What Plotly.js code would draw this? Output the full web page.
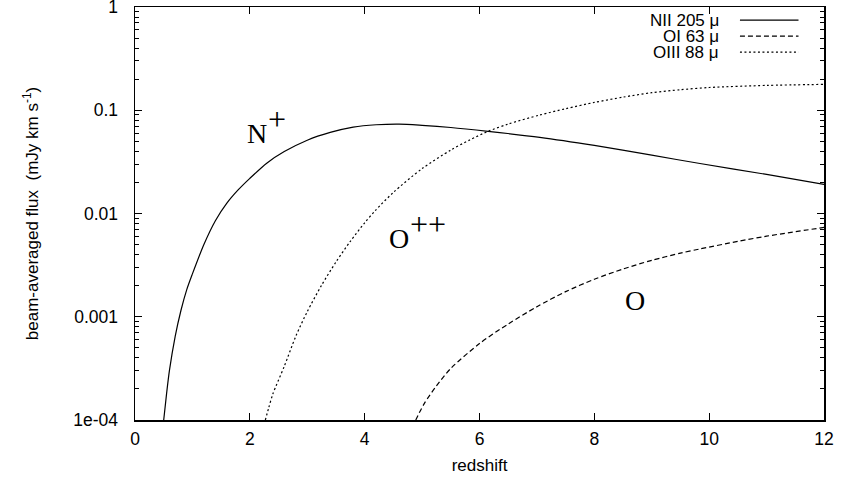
<!DOCTYPE html>
<html>
<head>
<meta charset="utf-8">
<script src="https://cdn.plot.ly/plotly-3.0.1.min.js"></script>
<style>
  html, body { margin: 0; padding: 0; background: #fff; }
  #chart { width: 842px; height: 477px; }
</style>
</head>
<body>
<div id="chart"></div>
<script>
// [NII] 205 micron line: beam-averaged flux (mJy km/s) vs redshift
const nII_z    = [0.5, 0.55, 0.6, 0.7, 0.8, 0.9, 1.0, 1.2, 1.4, 1.6, 1.8, 2.0, 2.3, 2.6, 3.0, 3.4, 3.8, 4.2, 4.6, 5.0, 5.5, 6.15, 7.05, 8.0, 9.0, 9.84, 11.0, 12.0];
const nII_flux = [1.0e-4, 1.80e-4, 3.02e-4, 6.46e-4, 1.15e-3, 1.82e-3, 2.60e-3, 5.01e-3, 8.51e-3, 0.0126, 0.0170, 0.0219, 0.0309, 0.0398, 0.0513, 0.0610, 0.0687, 0.0724, 0.0735, 0.0715, 0.0681, 0.0625, 0.0547, 0.0456, 0.0367, 0.0305, 0.0239, 0.0191];

// [OI] 63 micron line
const oI_z    = [4.89, 4.95, 5.05, 5.25, 5.5, 6.0, 6.5, 7.0, 7.5, 8.0, 8.5, 9.0, 9.5, 9.84, 10.5, 11.0, 12.0];
const oI_flux = [1.0e-4, 1.17e-4, 1.48e-4, 2.14e-4, 3.16e-4, 5.50e-4, 8.51e-4, 1.25e-3, 1.75e-3, 2.31e-3, 2.90e-3, 3.52e-3, 4.13e-3, 4.54e-3, 5.37e-3, 6.03e-3, 7.33e-3];

// [OIII] 88 micron line
const oIII_z    = [2.27, 2.33, 2.4, 2.6, 2.8, 3.0, 3.25, 3.5, 3.75, 4.0, 4.18, 4.5, 5.0, 5.5, 5.83, 6.15, 6.5, 7.05, 7.5, 8.0, 8.5, 9.0, 9.5, 10.0, 11.0, 12.0];
const oIII_flux = [1.0e-4, 1.32e-4, 1.78e-4, 3.31e-4, 6.46e-4, 1.12e-3, 2.02e-3, 3.39e-3, 5.37e-3, 8.13e-3, 0.0106, 0.0160, 0.0272, 0.0411, 0.0516, 0.0625, 0.0735, 0.0899, 0.1035, 0.119, 0.134, 0.148, 0.158, 0.166, 0.174, 0.178];

const yTickVals = [1e-4, 1e-3, 0.01, 0.1, 1];
const yTickText = ['1e-04', '0.001', '0.01', '0.1', '1'];
const xTickVals = [0, 2, 4, 6, 8, 10, 12];

const legendNames = ['NII 205 \u03bc', 'OI 63 \u03bc', 'OIII 88 \u03bc'];
const legendDash  = ['solid', '5px,3px', '2px,2.5px'];

// ion labels placed beside the curves: base letter and its charge
const ionBase   = ['N', 'O', 'O'];
const ionCharge = ['+', '++', ''];
const ionZ      = [2.13, 4.59, 8.70];
const ionFlux   = [0.0592, 0.0057, 0.00145];

const lineStyle = (dash) => ({ color: '#000', width: 1.2, dash: dash, shape: 'spline', smoothing: 0.8 });

const traces = [
  { x: nII_z,  y: nII_flux,  mode: 'lines', name: legendNames[0], line: lineStyle(legendDash[0]) },
  { x: oI_z,   y: oI_flux,   mode: 'lines', name: legendNames[1], line: lineStyle(legendDash[1]) },
  { x: oIII_z, y: oIII_flux, mode: 'lines', name: legendNames[2], line: lineStyle(legendDash[2]) }
];

const sansFamily = 'Liberation Sans, Arial, Helvetica, sans-serif';
const serifFamily = 'Liberation Serif, Times New Roman, serif';
const tickFont = { family: sansFamily, size: 17.5, color: '#000' };

const annotations = [];
ionBase.forEach((b, i) => {
  annotations.push({
    x: ionZ[i], y: Math.log10(ionFlux[i]), xref: 'x', yref: 'y', text: b,
    showarrow: false, font: { family: serifFamily, size: 28, color: '#000' },
    xanchor: 'center', yanchor: 'middle'
  });
  if (ionCharge[i]) {
    annotations.push({
      x: ionZ[i], y: Math.log10(ionFlux[i]), xref: 'x', yref: 'y', text: ionCharge[i],
      showarrow: false, font: { family: serifFamily, size: 32, color: '#000' },
      xanchor: 'left', yanchor: 'middle', xshift: 9, yshift: 15
    });
  }
});

// legend: text on the left, line sample on the right
const shapes = [];
const legTop = 0.968, legStep = 0.0387;
legendNames.forEach((name, i) => {
  const yy = legTop - i * legStep;
  annotations.push({
    x: 0.849, y: yy, xref: 'paper', yref: 'paper', text: name, showarrow: false,
    xanchor: 'right', yanchor: 'middle', borderpad: 0,
    font: { family: sansFamily, size: 17, color: '#000' }
  });
  shapes.push({
    type: 'line', xref: 'paper', yref: 'paper', x0: 0.878, x1: 0.963, y0: yy, y1: yy,
    line: { color: '#000', width: 1.2, dash: legendDash[i] }
  });
});

const layout = {
  width: 842, height: 477,
  margin: { l: 135, r: 18, t: 7, b: 57 },
  paper_bgcolor: '#fff', plot_bgcolor: '#fff',
  font: { family: sansFamily, size: 17, color: '#000' },
  showlegend: false,
  xaxis: {
    range: [0, 12], tickvals: xTickVals, ticks: 'inside', ticklen: 7, tickwidth: 1, tickcolor: '#000',
    showline: true, linecolor: '#000', linewidth: 1.5, mirror: 'allticks',
    showgrid: false, zeroline: false, tickfont: tickFont, ticklabelstandoff: 2,
    title: { text: 'redshift', font: { family: sansFamily, size: 17, color: '#000' }, standoff: 11 }
  },
  yaxis: {
    type: 'log', range: [-4, 0], tickvals: yTickVals, ticktext: yTickText,
    ticks: 'inside', ticklen: 7, tickwidth: 1, tickcolor: '#000',
    minor: { ticks: 'inside', ticklen: 4, dtick: 'D1', showgrid: false, tickcolor: '#000', tickwidth: 1 },
    showline: true, linecolor: '#000', linewidth: 1.5, mirror: 'allticks',
    showgrid: false, zeroline: false, tickfont: tickFont,
    ticklabelstandoff: 12, ticklabeloverflow: 'allow',
    title: { text: 'beam-averaged flux  (mJy km s<sup>-1</sup>)', font: { family: sansFamily, size: 17, color: '#000' }, standoff: 30 }
  },
  annotations: annotations,
  shapes: shapes
};

Plotly.newPlot('chart', traces, layout, { displayModeBar: false, staticPlot: true });
</script>
</body>
</html>
